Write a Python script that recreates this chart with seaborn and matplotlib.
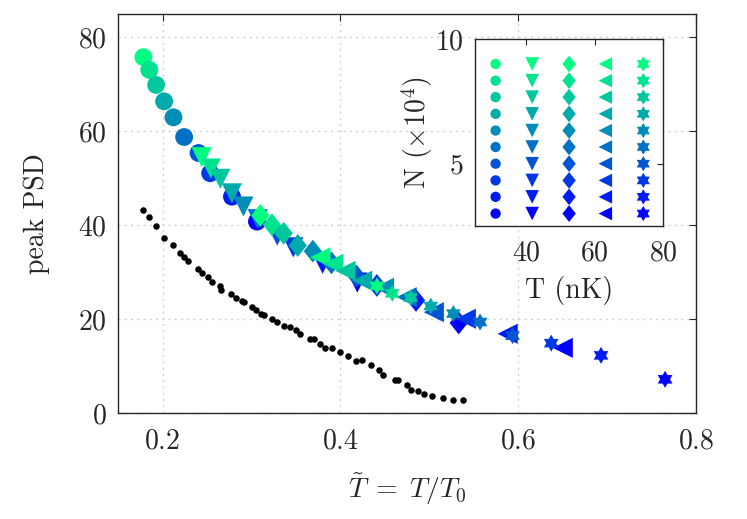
import numpy as np
import pandas as pd
import matplotlib
matplotlib.use('Agg')
import matplotlib.pyplot as plt
from matplotlib.path import Path
import seaborn as sns

# black reference points (peak PSD vs T~)
ref_t = [0.1778, 0.1853, 0.1928, 0.2022, 0.2116, 0.2198, 0.2244, 0.2292, 0.2398, 0.2443,
         0.2517, 0.2556, 0.2641, 0.2657, 0.2770, 0.2829, 0.2894, 0.2912, 0.3006, 0.3055,
         0.3108, 0.3145, 0.3231, 0.3288, 0.3362, 0.3430, 0.3505, 0.3542, 0.3655, 0.3708,
         0.3768, 0.3824, 0.3907, 0.4001, 0.4088, 0.4170, 0.4245, 0.4339, 0.4432, 0.4482,
         0.4609, 0.4646, 0.4744, 0.4797, 0.4876, 0.4939, 0.5034, 0.5158, 0.5270, 0.5379]
ref_psd = [43.3, 41.7, 39.9, 37.3, 35.7, 34.0, 33.2, 32.3, 30.6, 29.8,
           28.9, 28.0, 27.0, 26.3, 25.4, 24.6, 23.8, 23.6, 22.7, 21.9,
           21.2, 21.0, 20.1, 19.4, 18.5, 18.3, 17.6, 16.8, 15.7, 15.7,
           14.8, 13.9, 13.9, 13.0, 12.1, 11.1, 11.25, 10.3, 9.1, 8.1,
           7.0, 7.0, 5.9, 4.9, 4.7, 4.0, 3.6, 3.25, 2.9, 2.76]

# atom number (x10^4) for each shot, same for every temperature group
atom_n = [9.0, 8.33, 7.67, 7.0, 6.33, 5.67, 5.0, 4.33, 3.67, 3.0]

# temperature groups (nK) and measured points
group_temp = [31, 41.7, 52.5, 63.1, 74.2]
circ_t = [0.1785, 0.1852, 0.1928, 0.2018, 0.2123, 0.2243, 0.2405, 0.2536, 0.2781, 0.3062]
circ_psd = [75.8, 73.1, 69.9, 66.4, 63.0, 58.8, 55.4, 51.1, 46.1, 40.8]
tri_t = [0.244, 0.2543, 0.265, 0.278, 0.291, 0.307, 0.329, 0.347, 0.380, 0.419]
tri_psd = [54.5, 52.1, 49.9, 46.8, 44.0, 41.3, 37.8, 35.3, 31.8, 27.8]
dia_t = [0.310, 0.3231, 0.3362, 0.352, 0.369, 0.390, 0.418, 0.441, 0.485, 0.533]
dia_psd = [42.1, 40.1, 38.3, 35.7, 34.5, 32.0, 29.2, 27.2, 24.0, 19.2]
left_t = [0.3775, 0.392, 0.4057, 0.4245, 0.449, 0.4745, 0.505, 0.541, 0.588, 0.650]
left_psd = [33.2, 31.8, 30.3, 28.2, 26.7, 24.7, 21.5, 20.1, 16.9, 13.9]
star_t = [0.441, 0.4583, 0.479, 0.5015, 0.527, 0.557, 0.5935, 0.637, 0.693, 0.765]
star_psd = [27.1, 25.5, 24.6, 22.8, 21.2, 19.4, 16.5, 14.9, 12.3, 7.2]

# six pointed star marker
ang = np.pi / 2 + np.arange(12) * np.pi / 6
rad = np.where(np.arange(12) % 2 == 0, 1.0, 0.58)
hexagram = Path(np.column_stack([rad * np.cos(ang), rad * np.sin(ang)]).tolist() + [[0, 1]], closed=True)
diamond = Path([[0, 1], [0.8, 0], [0, -1], [-0.8, 0], [0, 1]], closed=True)

markers = ['o', 'v', diamond, '<', hexagram]
main_sizes = [165, 210, 270, 210, 150]
inset_sizes = [55, 95, 145, 95, 120]
groups = [(circ_t, circ_psd), (tri_t, tri_psd), (dia_t, dia_psd), (left_t, left_psd), (star_t, star_psd)]

sns.set_theme(style='white')
plt.rcParams['font.family'] = 'serif'
plt.rcParams['font.serif'] = ['cmr10', 'DejaVu Serif']
plt.rcParams['mathtext.fontset'] = 'cm'
plt.rcParams['axes.formatter.use_mathtext'] = True
plt.rcParams['axes.unicode_minus'] = False

txt = (0.15, 0.15, 0.15)
fig = plt.figure(figsize=(7.47, 5.19), dpi=100)
ax = fig.add_axes([0.158, 0.204, 0.774, 0.769])

sns.scatterplot(x=ref_t, y=ref_psd, color='black', s=22, linewidth=0, ax=ax, zorder=3)
for (tt, pp), m, s in zip(groups, markers, main_sizes):
    df = pd.DataFrame({'t': tt, 'psd': pp, 'N': atom_n})
    sns.scatterplot(data=df, x='t', y='psd', hue='N', palette='winter', hue_norm=(3, 9),
                    marker=m, s=s, linewidth=0, legend=False, ax=ax, zorder=3)

ax.set_xlim(0.15, 0.8)
ax.set_ylim(0, 85)
ax.set_xticks([0.2, 0.4, 0.6, 0.8])
ax.set_yticks([0, 20, 40, 60, 80])
ax.grid(True, linestyle=(0, (1.5, 3)), color='0.82', linewidth=1)
ax.tick_params(direction='in', length=5, width=0.8, top=True, right=True,
               labelsize=20, colors=txt, labelcolor=txt)
ax.tick_params(axis='x', pad=11)
ax.tick_params(axis='y', pad=8)
for sp in ax.spines.values():
    sp.set_color(txt)
    sp.set_linewidth(1)
ax.set_xlabel(r'$\tilde{T} \;=\; T/T_0$', fontsize=20, color=txt, labelpad=12)
ax.set_ylabel('peak PSD', fontsize=20, color=txt, labelpad=20)

# inset: sample points in T-N plane
ins = fig.add_axes([0.636, 0.5645, 0.2517, 0.3603])
for temp, m, s in zip(group_temp, markers, inset_sizes):
    df = pd.DataFrame({'T': [temp] * len(atom_n), 'N': atom_n})
    sns.scatterplot(data=df, x='T', y='N', hue='N', palette='winter', hue_norm=(3, 9),
                    marker=m, s=s, linewidth=0, legend=False, ax=ins, zorder=3)
ins.set_xlim(25, 80)
ins.set_ylim(2.5, 10)
ins.set_xticks([40, 60, 80])
ins.set_yticks([5, 10])
ins.tick_params(direction='in', length=4, width=0.8, top=True, right=True,
                labelsize=20, colors=txt, labelcolor=txt)
ins.tick_params(axis='x', pad=10)
ins.tick_params(axis='y', pad=8)
for sp in ins.spines.values():
    sp.set_color(txt)
    sp.set_linewidth(1)
ins.set_xlabel('T (nK)', fontsize=20, color=txt, labelpad=7)
ins.set_ylabel(r'N $(\times 10^4)$', fontsize=20, color=txt, labelpad=0)

fig.savefig('out.png', dpi=100)
